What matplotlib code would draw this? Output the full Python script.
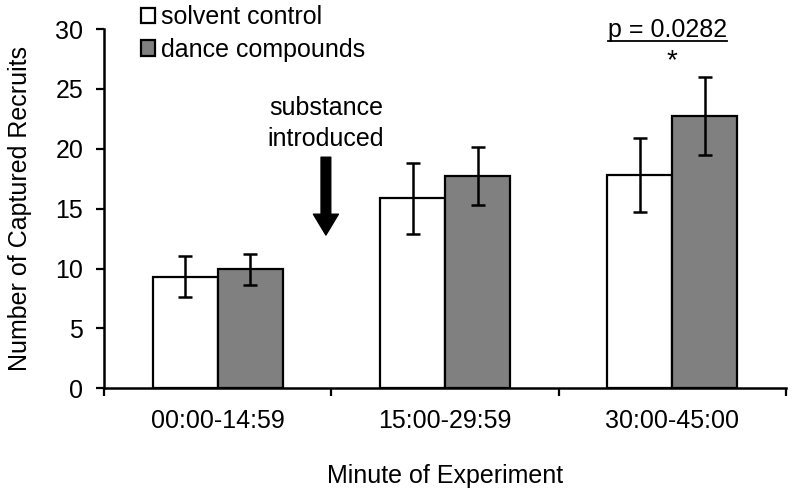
import matplotlib.pyplot as plt
import numpy as np

plt.rcParams['font.family'] = ['Liberation Sans', 'DejaVu Sans']

categories = ["00:00-14:59", "15:00-29:59", "30:00-45:00"]
control = [9.33, 15.87, 17.82]
control_err = [1.73, 2.98, 3.07]
dance = [9.94, 17.74, 22.77]
dance_err = [1.29, 2.45, 3.27]

fs = 18
fig = plt.figure(figsize=(7.94, 4.93), dpi=100)
ax = fig.add_axes([0.131, 0.2124, 0.859, 0.7286])

x = np.arange(len(categories))
w = 0.286
ekw = dict(elinewidth=1.8, capthick=1.8, capsize=4.7, ecolor='black')
ax.bar(x - w / 2, control, w, yerr=control_err, color='white', edgecolor='black',
       linewidth=1.6, error_kw=ekw, label="solvent control")
ax.bar(x + w / 2, dance, w, yerr=dance_err, color='#808080', edgecolor='black',
       linewidth=1.6, error_kw=ekw, label="dance compounds")

ax.set_xlim(-0.5, 2.5)
ax.set_ylim(0, 30)
ax.set_yticks(range(0, 31, 5))
ax.set_xticks(x)
ax.set_xticklabels(categories)
ax.set_xticks([-0.5, 0.5, 1.5, 2.5], minor=True)
ax.tick_params(axis='x', which='major', length=0, pad=15, labelsize=fs)
ax.tick_params(axis='x', which='minor', length=6, width=1.6, direction='out')
ax.tick_params(axis='y', length=6, width=1.6, labelsize=fs, pad=9)
for s in ['top', 'right']:
    ax.spines[s].set_visible(False)
for s in ['left', 'bottom']:
    ax.spines[s].set_linewidth(1.8)

ax.set_ylabel("Number of Captured Recruits", fontsize=fs, labelpad=17)
ax.set_xlabel("Minute of Experiment", fontsize=fs, labelpad=22)

# arrow for substance introduced
ax.annotate("", xy=(0.476, 12.8), xytext=(0.476, 19.3),
            arrowprops=dict(facecolor='black', edgecolor='black', width=7,
                            headwidth=18, headlength=15))
ax.text(0.476, 19.8, "substance\nintroduced", ha='center', va='bottom',
        fontsize=fs, linespacing=1.38)

# significance
ax.text(1.979, 29.95, "p = 0.0282", ha='center', va='center', fontsize=fs)
ax.plot([1.717, 2.24], [29.0, 29.0], color='black', lw=1.3, clip_on=False)
ax.text(2.0, 26.7, "*", ha='center', va='baseline', fontsize=20)

ax.legend(loc='upper left', bbox_to_anchor=(0.165, 1.01), bbox_transform=fig.transFigure,
          frameon=False, fontsize=fs, handlelength=0.55, handleheight=0.55,
          handletextpad=0.25, labelspacing=0.35, borderaxespad=0)

fig.savefig("out.png", dpi=100)
